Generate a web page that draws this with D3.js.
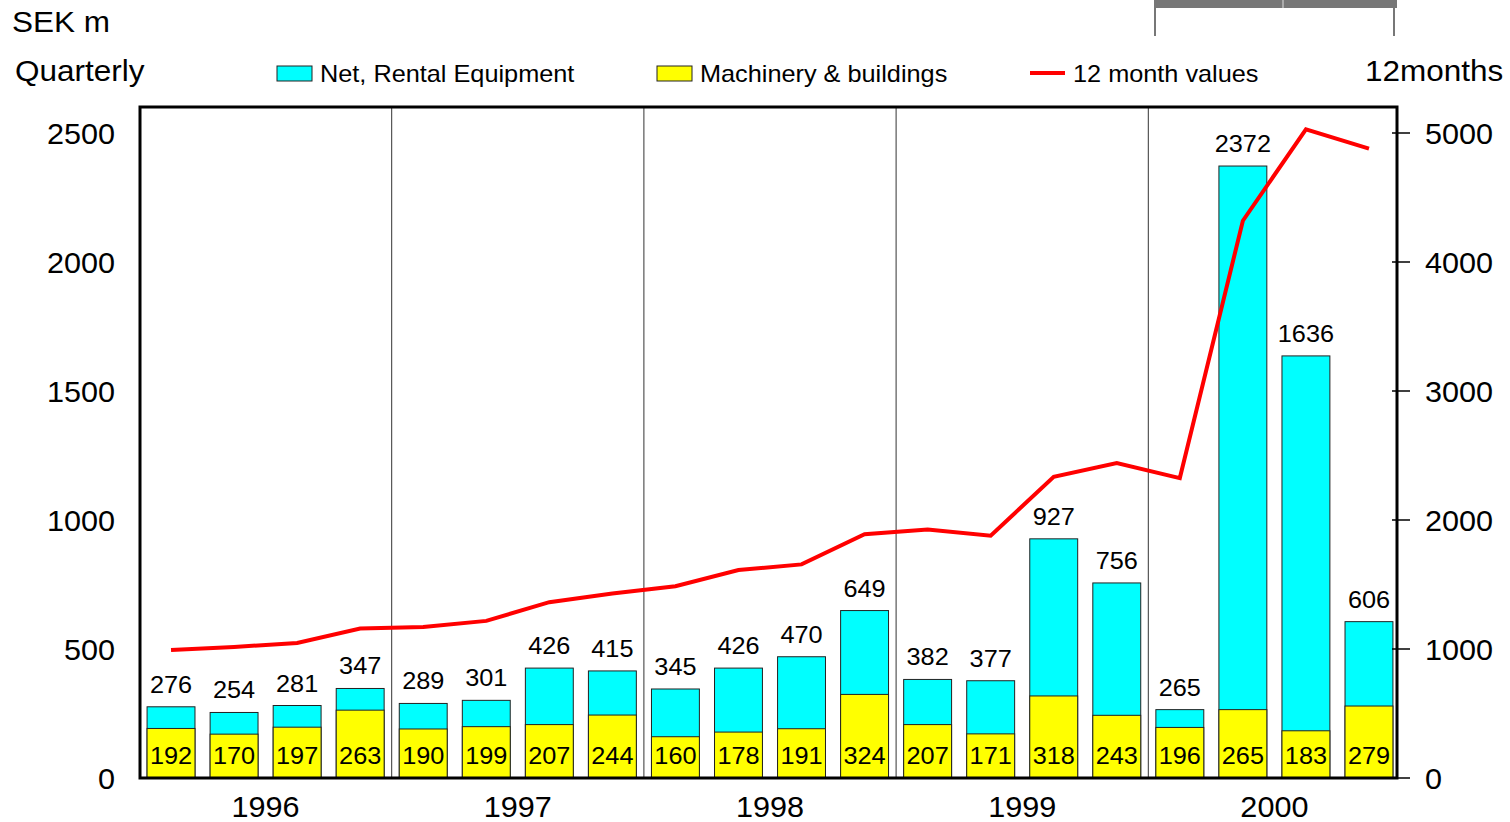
<!DOCTYPE html>
<html>
<head>
<meta charset="utf-8">
<script src="https://cdn.jsdelivr.net/npm/d3@7"></script>
<style>
  body { margin: 0; background: #fff; }
  svg { display: block; font-family: "Liberation Sans", Arial, sans-serif; }
</style>
</head>
<body>
<div id="chart"></div>
<script>
const years = ["1996", "1997", "1998", "1999", "2000"];
const quarters = ["Q1", "Q2", "Q3", "Q4"];
const totalValues = [276, 254, 281, 347, 289, 301, 426, 415, 345, 426, 470, 649, 382, 377, 927, 756, 265, 2372, 1636, 606];
const machineryValues = [192, 170, 197, 263, 190, 199, 207, 244, 160, 178, 191, 324, 207, 171, 318, 243, 196, 265, 183, 279];
const twelveMonthValues = [992, 1016, 1047, 1158, 1171, 1218, 1363, 1431, 1487, 1612, 1656, 1890, 1927, 1878, 2335, 2442, 2325, 4320, 5029, 4879];
const leftTicks = [0, 500, 1000, 1500, 2000, 2500];
const rightTicks = [0, 1000, 2000, 3000, 4000, 5000];

const width = 1510, height = 822;
const plot = { left: 140, right: 1397, top: 107, bottom: 778 };

const periods = [];
years.forEach(y => quarters.forEach(q => periods.push(y + q)));

const rows = periods.map((p, i) => ({
  period: p,
  total: totalValues[i],
  machinery: machineryValues[i],
  twelve: twelveMonthValues[i]
}));

const svg = d3.select("#chart").append("svg")
  .attr("width", width)
  .attr("height", height);

const x = d3.scaleBand()
  .domain(periods)
  .range([139.5, 1400.5])
  .paddingInner(0.24)
  .paddingOuter(0.12);

const yLeft = d3.scaleLinear().domain([0, 2500]).range([plot.bottom, 133]);
const yRight = d3.scaleLinear().domain([0, 5000]).range([plot.bottom, 133]);

// text slightly wider than the font, as in the original export
function stretched(sel, sx) {
  return sel.attr("transform", function() {
    const tx = +this.getAttribute("data-x"), ty = +this.getAttribute("data-y");
    return `translate(${tx},${ty}) scale(${sx},1)`;
  });
}

// year separators
const step = x.step();
years.slice(1).forEach(yr => {
  const sx = x(yr + "Q1") - step * x.paddingInner() / 2;
  svg.append("line")
    .attr("x1", sx).attr("x2", sx)
    .attr("y1", plot.top).attr("y2", plot.bottom)
    .attr("stroke", "#333")
    .attr("stroke-width", 1);
});

// bars: cyan total then yellow machinery
svg.append("g").selectAll("rect")
  .data(rows)
  .join("rect")
  .attr("x", d => x(d.period))
  .attr("width", x.bandwidth())
  .attr("y", d => yLeft(d.total))
  .attr("height", d => yLeft(0) - yLeft(d.total))
  .attr("fill", "#00ffff")
  .attr("stroke", "#222")
  .attr("stroke-width", 1);

svg.append("g").selectAll("rect")
  .data(rows)
  .join("rect")
  .attr("x", d => x(d.period))
  .attr("width", x.bandwidth())
  .attr("y", d => yLeft(d.machinery))
  .attr("height", d => yLeft(0) - yLeft(d.machinery))
  .attr("fill", "#ffff00")
  .attr("stroke", "#222")
  .attr("stroke-width", 1);

// total labels
svg.append("g").selectAll("text")
  .data(rows)
  .join("text")
  .attr("data-x", d => x(d.period) + x.bandwidth() / 2)
  .attr("data-y", d => yLeft(d.total) - 14)
  .attr("text-anchor", "middle")
  .attr("font-size", 23)
  .text(d => d.total)
  .call(stretched, 1.1);

// machinery labels
svg.append("g").selectAll("text")
  .data(rows)
  .join("text")
  .attr("data-x", d => x(d.period) + x.bandwidth() / 2)
  .attr("data-y", yLeft(0) - 14)
  .attr("text-anchor", "middle")
  .attr("font-size", 23)
  .text(d => d.machinery)
  .call(stretched, 1.1);

// 12 month line
const line = d3.line()
  .x(d => x(d.period) + x.bandwidth() / 2)
  .y(d => yRight(d.twelve));

svg.append("path")
  .datum(rows)
  .attr("d", line)
  .attr("fill", "none")
  .attr("stroke", "#ff0000")
  .attr("stroke-width", 4);

// frame
svg.append("path")
  .attr("d", `M${plot.left},${plot.bottom} V${plot.top} H${plot.right} V${plot.bottom} Z`)
  .attr("fill", "none")
  .attr("stroke", "#000")
  .attr("stroke-width", 3);

// left axis labels
svg.append("g").selectAll("text")
  .data(leftTicks)
  .join("text")
  .attr("data-x", 115)
  .attr("data-y", d => yLeft(d) + 11)
  .attr("text-anchor", "end")
  .attr("font-size", 30)
  .text(d => d)
  .call(stretched, 1.02);

// right axis ticks + labels
const rightAxis = svg.append("g");
rightAxis.selectAll("line")
  .data(rightTicks)
  .join("line")
  .attr("x1", plot.right - 5)
  .attr("x2", plot.right + 13)
  .attr("y1", d => yRight(d))
  .attr("y2", d => yRight(d))
  .attr("stroke", "#000")
  .attr("stroke-width", 1.5);
rightAxis.selectAll("text")
  .data(rightTicks)
  .join("text")
  .attr("data-x", 1425)
  .attr("data-y", d => yRight(d) + 11)
  .attr("font-size", 30)
  .text(d => d)
  .call(stretched, 1.02);

// year labels
svg.append("g").selectAll("text")
  .data(years)
  .join("text")
  .attr("data-x", yr => (x(yr + "Q1") + x(yr + "Q4") + x.bandwidth()) / 2)
  .attr("data-y", 817)
  .attr("text-anchor", "middle")
  .attr("font-size", 30)
  .text(yr => yr)
  .call(stretched, 1.02);

// headings
const headings = [
  { text: "SEK m", x: 12, y: 32 },
  { text: "Quarterly", x: 15, y: 81 },
  { text: "12months", x: 1365, y: 81 }
];
svg.append("g").selectAll("text")
  .data(headings)
  .join("text")
  .attr("data-x", d => d.x)
  .attr("data-y", d => d.y)
  .attr("font-size", 30)
  .text(d => d.text)
  .call(stretched, 1.05);

// legend
const legend = svg.append("g").attr("font-size", 23);
legend.append("rect").attr("x", 277).attr("y", 66).attr("width", 35).attr("height", 15)
  .attr("fill", "#00ffff").attr("stroke", "#222");
legend.append("rect").attr("x", 657).attr("y", 66).attr("width", 35).attr("height", 15)
  .attr("fill", "#ffff00").attr("stroke", "#222");
legend.append("line").attr("x1", 1030).attr("x2", 1065).attr("y1", 73).attr("y2", 73)
  .attr("stroke", "#ff0000").attr("stroke-width", 4);
legend.selectAll("text")
  .data([
    { text: "Net, Rental Equipment", x: 320 },
    { text: "Machinery & buildings", x: 700 },
    { text: "12 month values", x: 1073 }
  ])
  .join("text")
  .attr("data-x", d => d.x)
  .attr("data-y", 82)
  .text(d => d.text)
  .call(stretched, 1.1);

// gray bracket at top right (cut off by the picture edge)
const bracket = svg.append("g").attr("fill", "#777");
bracket.append("rect").attr("x", 1154).attr("y", 0).attr("width", 243).attr("height", 8);
bracket.append("rect").attr("x", 1154).attr("y", 0).attr("width", 2).attr("height", 36);
bracket.append("rect").attr("x", 1393).attr("y", 0).attr("width", 2).attr("height", 36);
bracket.append("rect").attr("x", 1282).attr("y", 0).attr("width", 2).attr("height", 8).attr("fill", "#aaa");
</script>
</body>
</html>
